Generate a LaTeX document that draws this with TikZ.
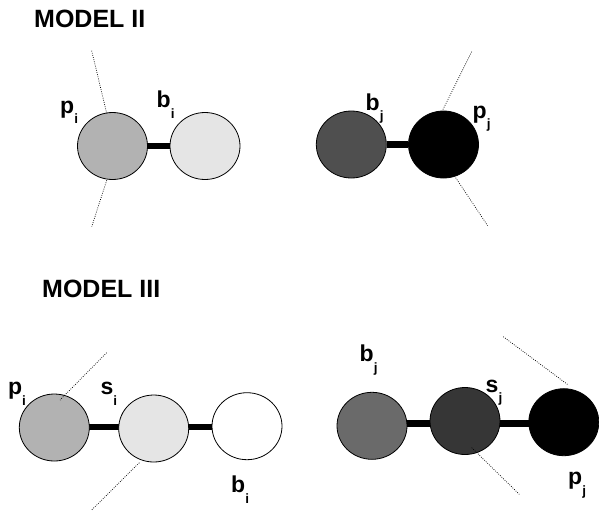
\documentclass[tikz,border=0pt]{standalone}
\usepackage{fontspec}
\setmainfont{Liberation Sans}
\usetikzlibrary{shapes.geometric}

\definecolor{ltgray}{HTML}{B2B2B2}
\definecolor{pale}{HTML}{E5E5E5}
\definecolor{dkgray}{HTML}{4F4F4F}
\definecolor{midgray}{HTML}{6A6A6A}
\definecolor{deepgray}{HTML}{363636}

% bead label: main letter with a lowered subscript
\newcommand{\beadlab}[2]{{\fontsize{23}{23}\selectfont\bfseries #1}\raisebox{-10.5pt}{\fontsize{13.5}{13.5}\selectfont\bfseries #2}}

\tikzset{
  ball/.style={ellipse, draw=black, line width=0.8pt, minimum width=70pt, minimum height=67pt, inner sep=0pt},
  bar/.style={line width=6.5pt},
  guide/.style={line width=0.7pt, dash pattern=on 0.8pt off 1.4pt},
  title/.style={anchor=base west, inner sep=0pt, font=\fontsize{25}{25}\selectfont\bfseries},
  lab/.style={anchor=base west, inner sep=0pt}
}

\begin{document}
\begin{tikzpicture}[x=1pt, y=-1pt]
\useasboundingbox (0,0) rectangle (599,512);

% ---------- Model II ----------
\node[title] (t2) at (34,27) {MODEL II};

\node[ball, fill=ltgray] (p2i) at (112.5,146) {};
\node[ball, fill=pale]   (b2i) at (205,146) {};
\node[ball, fill=dkgray] (b2j) at (351.3,144.5) {};
\node[ball, fill=black]  (p2j) at (443.5,144.5) {};

\draw[bar] (p2i) -- (b2i);
\draw[bar] (b2j) -- (p2j);

\node[lab] (lp2i) at (60,113.3) {\beadlab{p}{i}};
\node[lab] (lb2i) at (156.5,107.7) {\beadlab{b}{i}};
\node[lab] (lb2j) at (365.5,110) {\beadlab{b}{j}};
\node[lab] (lp2j) at (472.5,118) {\beadlab{p}{j}};

\coordinate (g1a) at (91.7,50.7);  \coordinate (g1b) at (106.7,113.3);
\coordinate (g2a) at (106.7,180.3); \coordinate (g2b) at (91.7,226.7);
\coordinate (g3a) at (471.7,51.7); \coordinate (g3b) at (442.7,110);
\coordinate (g4a) at (455.7,177.7); \coordinate (g4b) at (487.7,225.7);
\draw[guide] (g1a) -- (g1b);
\draw[guide] (g2a) -- (g2b);
\draw[guide] (g3a) -- (g3b);
\draw[guide] (g4a) -- (g4b);

% ---------- Model III ----------
\node[title] (t3) at (42,297) {MODEL III};

% horizontal rods first, the beads are drawn over their ends
\coordinate (rodL) at (0,427);
\coordinate (rodR) at (0,423.5);
\path (54.3,427.5) coordinate (cp3i) (153.7,428.5) coordinate (cs3i) (247,426.2) coordinate (cb3i)
      (372,425.8) coordinate (cb3j) (465,421) coordinate (cs3j) (563.8,422.2) coordinate (cp3j);
\draw[bar] (cp3i |- rodL) -- (cb3i |- rodL);
\draw[bar] (cb3j |- rodR) -- (cp3j |- rodR);

\node[ball, fill=ltgray]  (p3i) at (cp3i) {};
\node[ball, fill=pale]    (s3i) at (cs3i) {};
\node[ball, fill=white]   (b3i) at (cb3i) {};
\node[ball, fill=midgray] (b3j) at (cb3j) {};
\node[ball, fill=deepgray](s3j) at (cs3j) {};
\node[ball, fill=black]   (p3j) at (cp3j) {};

\node[lab] (lp3i) at (8,394.7) {\beadlab{p}{i}};
\node[lab] (ls3i) at (100.5,394.5) {\beadlab{s}{i}};
\node[lab] (lb3i) at (231,492.7) {\beadlab{b}{i}};
\node[lab] (lb3j) at (359.5,361.7) {\beadlab{b}{j}};
\node[lab] (ls3j) at (485.5,392.3) {\beadlab{s}{j}};
\node[lab] (lp3j) at (568,484.5) {\beadlab{p}{j}};

\coordinate (g5a) at (106.7,352.7); \coordinate (g5b) at (60,400);
\coordinate (g6a) at (139.3,462.7); \coordinate (g6b) at (91.7,510);
\coordinate (g7a) at (503.3,336.7); \coordinate (g7b) at (568.3,385);
\coordinate (g8a) at (471.7,447.7); \coordinate (g8b) at (519.3,494.3);
\draw[guide] (g5a) -- (g5b);
\draw[guide] (g6a) -- (g6b);
\draw[guide] (g7a) -- (g7b);
\draw[guide] (g8a) -- (g8b);
\end{tikzpicture}
\end{document}
